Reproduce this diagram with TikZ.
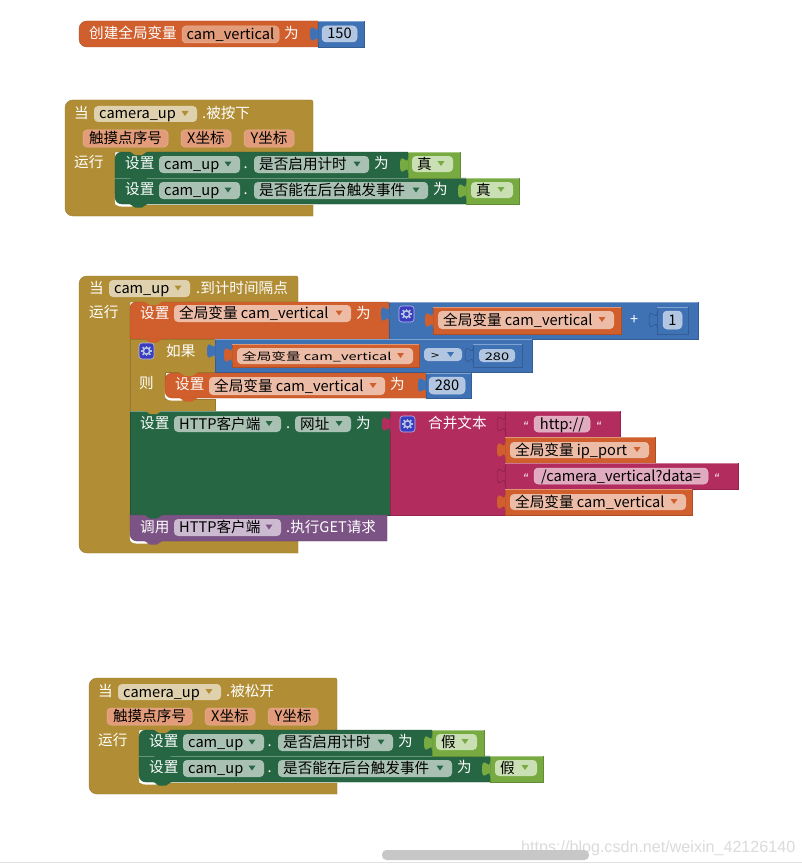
\documentclass[tikz,border=0pt]{standalone}
\usepackage{fontspec}
\usepackage{graphicx}
\setmainfont{Noto Sans CJK SC}
\newfontfamily\wmfont{Liberation Sans}
\definecolor{cOr}{HTML}{D05F2D}
\definecolor{cBl}{HTML}{3F71B5}
\definecolor{cGo}{HTML}{B18E35}
\definecolor{cGr}{HTML}{266643}
\definecolor{cLg}{HTML}{77AB41}
\definecolor{cPu}{HTML}{7C5385}
\definecolor{cMa}{HTML}{B32C5E}
\definecolor{cGe}{HTML}{3B3CC0}
\definecolor{fOr}{HTML}{EDBCA7}
\definecolor{fBl}{HTML}{B2C6E1}
\definecolor{fGr}{HTML}{A8C1B3}
\definecolor{fGo}{HTML}{DFD1AE}
\definecolor{fPa}{HTML}{E29C7A}
\definecolor{fMa}{HTML}{E1ABBF}
\definecolor{fPu}{HTML}{CBBAD0}
\definecolor{fLg}{HTML}{CADFB3}
\tikzset{
  lab/.style={anchor=base west,inner sep=0pt,text=white,font=\fontsize{14.6}{16}\selectfont},
  fldt/.style={anchor=base west,inner sep=0pt,text=black,font=\fontsize{14.6}{16}\selectfont},
  ctrt/.style={anchor=base,inner sep=0pt,text=black,font=\fontsize{14.6}{16}\selectfont},
  quot/.style={anchor=base west,inner sep=0pt,text=white,font=\wmfont\itshape\fontsize{14}{16}\selectfont}
}
% block rectangle
\newcommand\blk[5]{\path[fill=#5,draw=#5!82!black,line width=.5pt] (#1,#2) rectangle (#3,#4);
  \draw[#5!65!white,line width=.6pt] (#1,#2) -- (#3,#2);}
% white label: x, centre y, text
\newcommand\lab[3]{\node[lab] at (#1,#2+5) {#3};}
% dropdown field: x1 x2 y1 y2 fill text arrowcolour
\newcommand\fld[7]{\path[fill=#5,rounded corners=4pt] (#1,#3) rectangle (#2,#4);
  \node[fldt] at (#1+5,{(#3+#4)/2+5}) {#6};
  \fill[#7] (#2-15.5,{(#3+#4)/2-3}) -- (#2-8.5,{(#3+#4)/2-3}) -- (#2-12,{(#3+#4)/2+2}) -- cycle;}
% plain field: centred text
\newcommand\pfd[6]{\path[fill=#5,draw=#5!80!white,line width=.5pt,rounded corners=4pt] (#1,#3) rectangle (#2,#4);
  \node[ctrt] at ({(#1+#2)/2},{(#3+#4)/2+5}) {#6};}
% puzzle tab: x, centre y, colour
\newcommand\tabp[3]{\path[fill=#3] (#1+.5,#2-7.5) -- (#1,#2-7.5) .. controls (#1,#2+2.5) and (#1-8,#2-15.5) .. (#1-8,#2)
  .. controls (#1-8,#2+15.5) and (#1,#2-2.5) .. (#1,#2+7.5) -- (#1+.5,#2+7.5) -- cycle;}
\newcommand\tabo[3]{\path[fill=#3,draw=#3!75!black,line width=.5pt] (#1,#2-7.5) .. controls (#1,#2+2.5) and (#1-8,#2-15.5) .. (#1-8,#2)
  .. controls (#1-8,#2+15.5) and (#1,#2-2.5) .. (#1,#2+7.5);}
% statement bump: block left x, y, colour
\newcommand\bump[3]{\fill[#3] (#1+14,#2-.5) -- (#1+20,#2+3.5) -- (#1+27,#2+3.5) -- (#1+33,#2-.5) -- cycle;}
% white crescent below last statement
\newcommand\cres[2]{\fill[white] (#1-.2,#2-10) -- (#1-.2,#2-3) .. controls (#1-.2,#2+1) and (#1+3,#2+2.6) .. (#1+7,#2+2.6) -- (#1+17,#2+2.6) -- (#1+19,#2) -- (#1+19,#2-10) -- cycle;}
% mutator gear: x y
\newcommand\gear[2]{\path[fill=cGe,draw=white!65!cGe,line width=.6pt,rounded corners=3pt] (#1,#2) rectangle (#1+15,#2+16);
  \foreach \a in {0,45,...,315}{\draw[fBl,line width=1.7pt] ([shift={(\a:2.8pt)}]#1+7.5,#2+8) -- ([shift={(\a:5.4pt)}]#1+7.5,#2+8);}
  \draw[fBl,line width=1.6pt] (#1+7.5,#2+8) circle (3.2pt);}
% event block: dx dy event-name boolean
\newcommand\evt[4]{%
\begin{scope}[shift={(#1,#2)}]
\path[fill=cGo,draw=cGo!85!black,line width=.4pt] (200,216) [rounded corners=8pt] -- (65,216) -- (65,100) -- (120,100) [sharp corners] [rounded corners=2pt] -- (313,100) -- (313,120) [sharp corners] -- (313,152) -- (115,152) -- (115,205) -- (313,205) -- (313,216) -- cycle;
\lab{74}{113}{当}
\fld{94}{197}{106}{122}{fGo}{camera\_up}{cGo}
\lab{202}{113}{.#3}
\pfd{83}{168}{130}{147}{fPa}{触摸点序号}
\pfd{181}{231}{130}{147}{fPa}{X坐标}
\pfd{244}{294}{130}{147}{fPa}{Y坐标}
\lab{74}{162}{运行}
\cres{115}{204}
\path[fill=cGr,draw=cGr!82!black,line width=.4pt] (300,204) [rounded corners=7pt] -- (115,204) -- (115,152) -- (200,152) [sharp corners] -- (408,152) -- (408,178) -- (466,178) -- (466,204) -- cycle;
\draw[cGr!70!white,line width=.5pt] (115,178.3) -- (466,178.3);
\bump{115}{178}{cGr}\bump{115}{204}{cGr}
\bump{115}{151.5}{cGo}
\blk{408}{152}{460}{178}{cLg}\blk{466}{178}{519}{204}{cLg}
\tabp{408}{165}{cLg}\tabp{466}{191}{cLg}
\lab{125}{163}{设置}
\fld{159}{240}{156}{173}{fGr}{cam\_up}{cGr}
\lab{243.5}{163}{.}
\fld{254}{369}{156}{173}{fGr}{是否启用计时}{cGr}
\lab{374}{163}{为}
\fld{412}{453}{156}{172}{fLg}{#4}{cLg}
\lab{125}{189}{设置}
\fld{159}{240}{182}{199}{fGr}{cam\_up}{cGr}
\lab{243.5}{189}{.}
\fld{254}{428}{182}{199}{fGr}{是否能在后台触发事件}{cGr}
\lab{433}{189}{为}
\fld{471}{513}{182}{198}{fLg}{#4}{cLg}
\end{scope}}
\begin{document}
\begin{tikzpicture}[x=1pt,y=-1pt]
\useasboundingbox (0,0) rectangle (802,864);
\fill[white] (0,0) rectangle (802,864);
% global definition
\path[fill=cOr,draw=cOr!82!black,line width=.4pt] (200,47) [rounded corners=8pt] -- (79,47) -- (79,21) -- (200,21) [sharp corners] -- (318,21) -- (318,47) -- cycle;
\blk{318}{21}{364}{47}{cBl}
\tabp{318}{34}{cBl}
\lab{89}{34}{创建全局变量}
\pfd{182}{279}{26}{43}{fPa}{cam\_vertical}
\lab{284}{34}{为}
\pfd{322}{357}{26}{42}{fBl}{150}
% pressed
\evt{0}{0}{被按下}{真}
% timer event
\path[fill=cGo,draw=cGo!85!black,line width=.4pt] (200,553) [rounded corners=8pt] -- (79,553) -- (79,276) -- (150,276) [sharp corners] [rounded corners=2pt] -- (298,276) -- (298,295) [sharp corners] -- (298,302) -- (130,302) -- (130,541) -- (298,541) -- (298,553) -- cycle;
\lab{89}{288}{当}
\fld{109}{190}{280}{297}{fGo}{cam\_up}{cGo}
\lab{196}{288}{.到计时间隔点}
\lab{89}{312}{运行}
% set cam_vertical +1
\path[fill=cOr,draw=cOr!82!black,line width=.4pt] (130,339) [rounded corners=6pt] -- (130,302) -- (200,302) [sharp corners] -- (389,302) -- (389,339) -- cycle;
\blk{389}{302}{698}{339}{cBl}
\tabp{389}{314}{cBl}
\bump{130}{301.5}{cGo}
\lab{140}{313}{设置}
\fld{174}{351}{305}{322}{fOr}{全局变量 cam\_vertical}{cOr}
\lab{356}{313}{为}
\gear{399}{306}
\blk{433}{307}{621}{334}{cOr}\tabp{433}{320}{cOr}
\fld{438}{614}{311}{329}{fOr}{全局变量 cam\_vertical}{cOr}
\lab{630}{319}{+}
\blk{657}{307}{688}{334}{cBl}\tabo{657}{320}{cBl}
\pfd{663}{682}{311}{329}{fBl}{1}
% if
\path[fill=cGo,draw=cGo!85!black,line width=.4pt] (130,339) -- (215,339) -- (215,372) -- (165,372) -- (165,399) -- (215,399) -- (215,411) -- (130,411) -- cycle;
\bump{130}{339}{cOr}
\gear{139}{343}
\lab{166}{351}{如果}
\blk{215}{339}{532}{372}{cBl}\tabp{215}{351}{cBl}
\blk{232}{344}{419}{367}{cOr}\tabp{232}{355}{cOr}
\path[fill=fOr,rounded corners=4pt] (237,348) rectangle (413,364);
\node[fldt] at (242,360) {\scalebox{1}[.72]{全局变量 cam\_vertical}};
\fill[cOr] (397,353) -- (404,353) -- (400.5,358) -- cycle;
\path[fill=fBl,rounded corners=4pt] (424,348) rectangle (462,361);
\node[fldt] at (431,359) {\scalebox{1}[.72]{>}};
\fill[cBl] (447,352) -- (454,352) -- (450.5,357) -- cycle;
\blk{473}{344}{522}{367}{cBl}\tabo{473}{355}{cBl}
\path[fill=fBl,rounded corners=4pt] (479,349) rectangle (515,362);
\node[ctrt] at (497,360) {\scalebox{1}[.72]{280}};
\lab{139}{383}{则}
\cres{165}{398}
\path[fill=cOr,draw=cOr!82!black,line width=.4pt] (300,398) [rounded corners=7pt] -- (165,398) -- (165,373) -- (300,373) [sharp corners] -- (426,373) -- (426,398) -- cycle;
\bump{165}{372.5}{cGo}\bump{165}{398}{cOr}
\blk{426}{373}{471}{398}{cBl}\tabp{426}{385}{cBl}
\lab{175}{384}{设置}
\fld{209}{385}{377}{395}{fOr}{全局变量 cam\_vertical}{cOr}
\lab{390}{384}{为}
\pfd{429}{465}{377}{394}{fBl}{280}
% http url
\blk{130}{411}{390}{515}{cGr}
\blk{390}{411}{505}{515}{cMa}
\tabp{390}{424}{cMa}
\bump{130}{410.5}{cGo}
\lab{140}{423}{设置}
\fld{174}{281}{416}{432}{fGr}{HTTP客户端}{cGr}
\lab{286}{423}{.}
\fld{295}{351}{416}{432}{fGr}{网址}{cGr}
\lab{356}{423}{为}
\gear{400}{416}
\lab{428}{423}{合并文本}
% join inputs
\blk{505}{411}{620}{437}{cMa}\tabo{505}{424}{cMa}
\node[quot] at (523,431) {“};
\pfd{534}{590}{416}{432}{fMa}{http://}
\node[quot] at (596,431) {“};
\blk{505}{437}{655}{463}{cOr}\tabp{505}{450}{cOr}
\fld{510}{649}{442}{458}{fOr}{全局变量 ip\_port}{cOr}
\blk{505}{463}{738}{489}{cMa}\tabo{505}{476}{cMa}
\node[quot] at (523,483) {“};
\pfd{534}{708}{468}{484}{fMa}{/camera\_vertical?data=}
\node[quot] at (714,483) {“};
\blk{505}{489}{692}{515}{cOr}\tabp{505}{502}{cOr}
\fld{510}{686}{494}{510}{fOr}{全局变量 cam\_vertical}{cOr}
% GET call
\cres{130}{541}
\path[fill=cPu,draw=cPu!82!black,line width=.4pt] (300,541) [rounded corners=7pt] -- (130,541) -- (130,520) [sharp corners] -- (130,515) -- (387,515) -- (387,541) -- cycle;
\bump{130}{515}{cGr}\bump{130}{541}{cPu}
\lab{140}{527}{调用}
\fld{174}{281}{519}{536}{fPu}{HTTP客户端}{cPu}
\lab{286}{527}{.执行GET请求}
% released
\evt{24}{578}{被松开}{假}
% page furniture
\node[inner sep=0pt,anchor=base west,text=black!14] (wm) at (521,852) {\resizebox{274pt}{!}{\wmfont https://blog.csdn.net/weixin\_42126140}};
\fill[black!22,rounded corners=4.5pt] (382,850) rectangle (589,860);
\draw[black!12,line width=.8pt] (0,862.5) -- (802,862.5);
\end{tikzpicture}
\end{document}
